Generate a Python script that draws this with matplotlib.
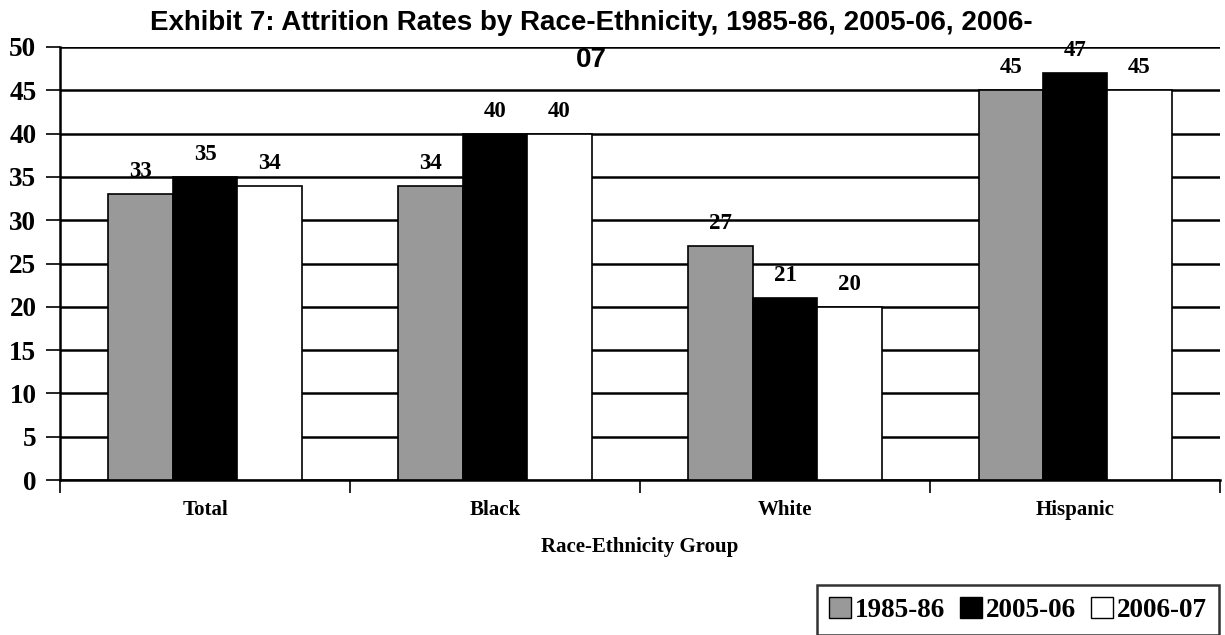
import numpy as np
import matplotlib.pyplot as plt
from matplotlib.patches import Patch

groups = ['Total', 'Black', 'White', 'Hispanic']
years = ['1985-86', '2005-06', '2006-07']
v_1985 = [33, 34, 27, 45]
v_2005 = [35, 40, 21, 47]
v_2006 = [34, 40, 20, 45]
colors = ['#999999', '#000000', '#ffffff']

serif = 'Liberation Serif'
sans = 'Liberation Sans'

fig = plt.figure(figsize=(12.25, 6.35), dpi=100)
ax = fig.add_axes([0.049, 0.244, 0.947, 0.682])

x = np.arange(len(groups))
w = 0.222
series = [v_1985, v_2005, v_2006]
for k, vals in enumerate(series):
    pos = x + (k - 1) * w
    ax.bar(pos, vals, width=w, color=colors[k], edgecolor='black', linewidth=1.2, zorder=3)
    for p, v in zip(pos, vals):
        ax.text(p, v + 2.6, str(v), ha='center', va='center',
                fontfamily=serif, fontweight='bold', fontsize=16.5, zorder=4)

ax.set_xlim(-0.5, len(groups) - 0.5)
ax.set_ylim(0, 50)
ax.set_yticks(np.arange(0, 51, 5))
ax.yaxis.grid(True, color='black', linewidth=1.8, zorder=0)
ax.set_xticks(np.arange(-0.5, len(groups), 1.0))
ax.set_xticklabels([])
ax.tick_params(axis='x', direction='out', length=9, width=1.2)
ax.tick_params(axis='y', direction='out', length=10, width=1.2, pad=7)
for lab in ax.get_yticklabels():
    lab.set_fontfamily(serif)
    lab.set_fontweight('bold')
    lab.set_fontsize(19.5)
for i, g in enumerate(groups):
    ax.text(i, -3.5, g, ha='center', va='center', fontfamily=serif,
            fontweight='bold', fontsize=15)
ax.text(1.5, -7.7, 'Race-Ethnicity Group', ha='center', va='center',
        fontfamily=serif, fontweight='bold', fontsize=15)

for s in ['top', 'right']:
    ax.spines[s].set_visible(False)
ax.spines['left'].set_linewidth(1.8)
ax.spines['bottom'].set_linewidth(1.8)

fig.text(0.483, 0.963, 'Exhibit 7: Attrition Rates by Race-Ethnicity, 1985-86, 2005-06, 2006-',
         ha='center', va='center', fontfamily=sans, fontweight='bold', fontsize=20)
fig.text(0.483, 0.905, '07', ha='center', va='center', fontfamily=sans,
         fontweight='bold', fontsize=20)

handles = [Patch(facecolor=colors[k], edgecolor='black', label=years[k]) for k in range(3)]
leg = fig.legend(handles=handles, loc='lower right', bbox_to_anchor=(0.995, 0.0), ncol=3,
                 borderaxespad=0.0, frameon=True, fancybox=False, edgecolor='black',
                 handlelength=0.8, handleheight=0.8, handletextpad=0.15, columnspacing=0.55,
                 borderpad=0.45, prop={'family': serif, 'weight': 'bold', 'size': 19.5})
leg.get_frame().set_linewidth(1.8)

fig.savefig('out.png', dpi=100)
